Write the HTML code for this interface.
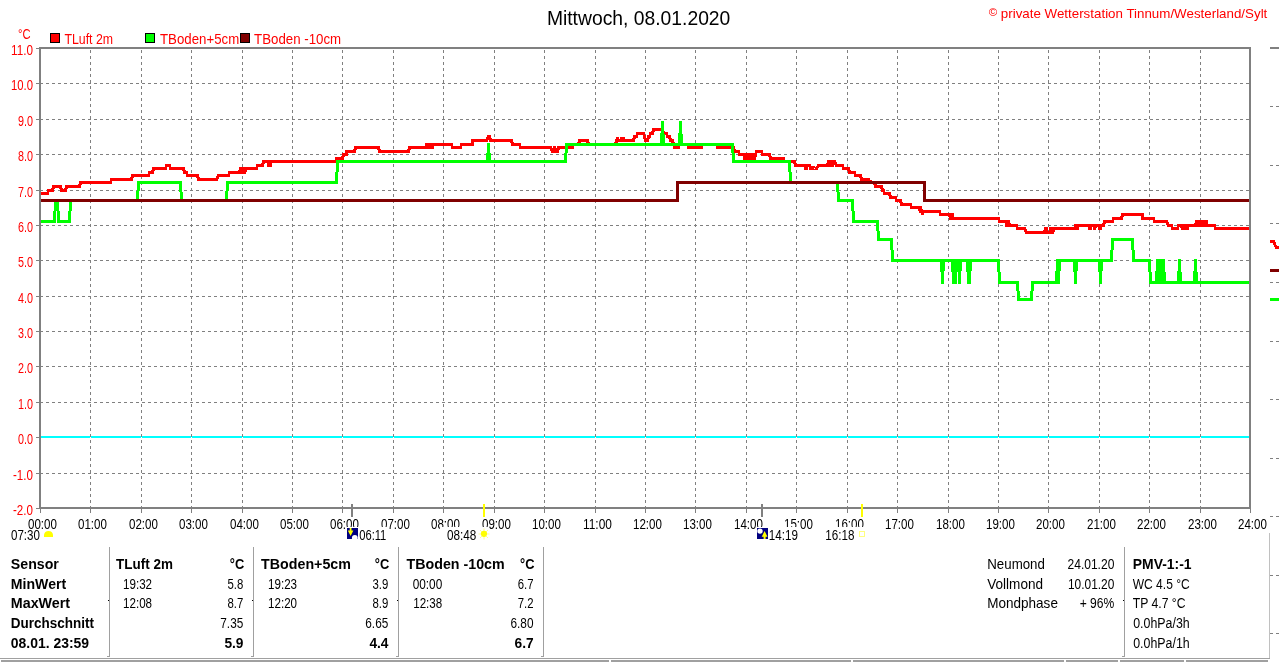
<!DOCTYPE html>
<html lang="de"><head><meta charset="utf-8"><title>Mittwoch, 08.01.2020</title>
<style>
html,body{margin:0;padding:0;background:#fff;}
body{width:1280px;height:662px;overflow:hidden;position:relative;font-family:"Liberation Sans",sans-serif;}
svg text{white-space:pre;}
</style></head><body>
<svg width="1280" height="662" viewBox="0 0 1280 662" style="position:absolute;left:0;top:0">
<rect x="0" y="0" width="1280" height="662" fill="#fff"/>
<g stroke="#808080" stroke-width="1" fill="none" shape-rendering="crispEdges">
<line x1="40" x2="1249" y1="83.5" y2="83.5" stroke-dasharray="3 3"/>
<line x1="40" x2="1249" y1="119.5" y2="119.5" stroke-dasharray="3 3"/>
<line x1="40" x2="1249" y1="154.5" y2="154.5" stroke-dasharray="3 3"/>
<line x1="40" x2="1249" y1="190.5" y2="190.5" stroke-dasharray="3 3"/>
<line x1="40" x2="1249" y1="225.5" y2="225.5" stroke-dasharray="3 3"/>
<line x1="40" x2="1249" y1="260.5" y2="260.5" stroke-dasharray="3 3"/>
<line x1="40" x2="1249" y1="296.5" y2="296.5" stroke-dasharray="3 3"/>
<line x1="40" x2="1249" y1="331.5" y2="331.5" stroke-dasharray="3 3"/>
<line x1="40" x2="1249" y1="366.5" y2="366.5" stroke-dasharray="3 3"/>
<line x1="40" x2="1249" y1="402.5" y2="402.5" stroke-dasharray="3 3"/>
<line x1="40" x2="1249" y1="437.5" y2="437.5" stroke-dasharray="3 3"/>
<line x1="40" x2="1249" y1="473.5" y2="473.5" stroke-dasharray="3 3"/>
<line x1="90.5" x2="90.5" y1="50" y2="507" stroke-dasharray="3 3"/>
<line x1="141.5" x2="141.5" y1="50" y2="507" stroke-dasharray="3 3"/>
<line x1="191.5" x2="191.5" y1="50" y2="507" stroke-dasharray="3 3"/>
<line x1="242.5" x2="242.5" y1="50" y2="507" stroke-dasharray="3 3"/>
<line x1="292.5" x2="292.5" y1="50" y2="507" stroke-dasharray="3 3"/>
<line x1="342.5" x2="342.5" y1="50" y2="507" stroke-dasharray="3 3"/>
<line x1="393.5" x2="393.5" y1="50" y2="507" stroke-dasharray="3 3"/>
<line x1="443.5" x2="443.5" y1="50" y2="507" stroke-dasharray="3 3"/>
<line x1="494.5" x2="494.5" y1="50" y2="507" stroke-dasharray="3 3"/>
<line x1="544.5" x2="544.5" y1="50" y2="507" stroke-dasharray="3 3"/>
<line x1="595.5" x2="595.5" y1="50" y2="507" stroke-dasharray="3 3"/>
<line x1="645.5" x2="645.5" y1="50" y2="507" stroke-dasharray="3 3"/>
<line x1="695.5" x2="695.5" y1="50" y2="507" stroke-dasharray="3 3"/>
<line x1="746.5" x2="746.5" y1="50" y2="507" stroke-dasharray="3 3"/>
<line x1="796.5" x2="796.5" y1="50" y2="507" stroke-dasharray="3 3"/>
<line x1="847.5" x2="847.5" y1="50" y2="507" stroke-dasharray="3 3"/>
<line x1="897.5" x2="897.5" y1="50" y2="507" stroke-dasharray="3 3"/>
<line x1="948.5" x2="948.5" y1="50" y2="507" stroke-dasharray="3 3"/>
<line x1="998.5" x2="998.5" y1="50" y2="507" stroke-dasharray="3 3"/>
<line x1="1048.5" x2="1048.5" y1="50" y2="507" stroke-dasharray="3 3"/>
<line x1="1099.5" x2="1099.5" y1="50" y2="507" stroke-dasharray="3 3"/>
<line x1="1149.5" x2="1149.5" y1="50" y2="507" stroke-dasharray="3 3"/>
<line x1="1200.5" x2="1200.5" y1="50" y2="507" stroke-dasharray="3 3"/>
</g>
<rect x="41" y="436" width="1208" height="2" fill="#00ffff" shape-rendering="crispEdges"/>
<g fill="#808080" shape-rendering="crispEdges">
<rect x="90" y="434" width="1" height="3"/><rect x="90" y="437" width="1" height="1" fill="#fff"/>
<rect x="141" y="434" width="1" height="3"/><rect x="141" y="437" width="1" height="1" fill="#fff"/>
<rect x="191" y="434" width="1" height="3"/><rect x="191" y="437" width="1" height="1" fill="#fff"/>
<rect x="242" y="434" width="1" height="3"/><rect x="242" y="437" width="1" height="1" fill="#fff"/>
<rect x="292" y="434" width="1" height="3"/><rect x="292" y="437" width="1" height="1" fill="#fff"/>
<rect x="342" y="434" width="1" height="3"/><rect x="342" y="437" width="1" height="1" fill="#fff"/>
<rect x="393" y="434" width="1" height="3"/><rect x="393" y="437" width="1" height="1" fill="#fff"/>
<rect x="443" y="434" width="1" height="3"/><rect x="443" y="437" width="1" height="1" fill="#fff"/>
<rect x="494" y="434" width="1" height="3"/><rect x="494" y="437" width="1" height="1" fill="#fff"/>
<rect x="544" y="434" width="1" height="3"/><rect x="544" y="437" width="1" height="1" fill="#fff"/>
<rect x="595" y="434" width="1" height="3"/><rect x="595" y="437" width="1" height="1" fill="#fff"/>
<rect x="645" y="434" width="1" height="3"/><rect x="645" y="437" width="1" height="1" fill="#fff"/>
<rect x="695" y="434" width="1" height="3"/><rect x="695" y="437" width="1" height="1" fill="#fff"/>
<rect x="746" y="434" width="1" height="3"/><rect x="746" y="437" width="1" height="1" fill="#fff"/>
<rect x="796" y="434" width="1" height="3"/><rect x="796" y="437" width="1" height="1" fill="#fff"/>
<rect x="847" y="434" width="1" height="3"/><rect x="847" y="437" width="1" height="1" fill="#fff"/>
<rect x="897" y="434" width="1" height="3"/><rect x="897" y="437" width="1" height="1" fill="#fff"/>
<rect x="948" y="434" width="1" height="3"/><rect x="948" y="437" width="1" height="1" fill="#fff"/>
<rect x="998" y="434" width="1" height="3"/><rect x="998" y="437" width="1" height="1" fill="#fff"/>
<rect x="1048" y="434" width="1" height="3"/><rect x="1048" y="437" width="1" height="1" fill="#fff"/>
<rect x="1099" y="434" width="1" height="3"/><rect x="1099" y="437" width="1" height="1" fill="#fff"/>
<rect x="1149" y="434" width="1" height="3"/><rect x="1149" y="437" width="1" height="1" fill="#fff"/>
<rect x="1200" y="434" width="1" height="3"/><rect x="1200" y="437" width="1" height="1" fill="#fff"/>
</g>
<g fill="none" stroke-width="3" stroke-linejoin="round" stroke-linecap="butt" shape-rendering="crispEdges">
<polyline stroke="#ff0000" points="40.5,193.5 47.5,193.5 48.5,190.5 52.5,190.5 53.5,186.5 60.5,186.5 61.5,190.5 65.5,190.5 66.5,186.5 79.5,186.5 80.5,182.5 110.5,182.5 111.5,179.5 131.5,179.5 132.5,175.5 148.5,175.5 149.5,172.5 152.5,172.5 153.5,168.5 165.5,168.5 166.5,165.5 169.5,165.5 170.5,168.5 183.5,168.5 184.5,172.5 186.5,172.5 187.5,175.5 197.5,175.5 198.5,179.5 216.5,179.5 218.5,175.5 228.5,175.5 229.5,172.5 239.5,172.5 240.5,168.5 240.5,168.5 242.5,172.5 242.5,172.5 243.5,168.5 243.5,168.5 244.5,172.5 244.5,172.5 246.5,168.5 256.5,168.5 257.5,165.5 262.5,165.5 263.5,161.5 268.5,161.5 268.5,165.5 270.5,165.5 270.5,161.5 335.5,161.5 336.5,158.5 342.5,158.5 343.5,154.5 346.5,154.5 346.5,151.5 354.5,151.5 355.5,147.5 378.5,147.5 379.5,151.5 408.5,151.5 409.5,147.5 425.5,147.5 426.5,144.5 426.5,144.5 428.5,147.5 428.5,147.5 429.5,144.5 430.5,144.5 431.5,147.5 432.5,147.5 432.5,144.5 451.5,144.5 452.5,147.5 460.5,147.5 461.5,144.5 472.5,144.5 472.5,140.5 486.5,140.5 488.5,136.5 489.5,136.5 490.5,140.5 511.5,140.5 512.5,144.5 519.5,144.5 520.5,147.5 550.5,147.5 552.5,151.5 554.5,151.5 554.5,147.5 554.5,147.5 556.5,151.5 557.5,151.5 558.5,147.5 572.5,147.5 572.5,144.5 578.5,144.5 579.5,140.5 587.5,140.5 588.5,144.5 615.5,144.5 616.5,140.5 616.5,140.5 617.5,138.5 617.5,138.5 618.5,140.5 620.5,140.5 621.5,138.5 621.5,138.5 622.5,140.5 622.5,140.5 623.5,138.5 623.5,138.5 624.5,140.5 633.5,140.5 634.5,136.5 636.5,136.5 637.5,133.5 643.5,133.5 644.5,136.5 644.5,136.5 645.5,140.5 647.5,140.5 648.5,136.5 649.5,136.5 650.5,133.5 652.5,133.5 653.5,129.5 662.5,129.5 663.5,133.5 666.5,133.5 667.5,136.5 669.5,136.5 670.5,140.5 672.5,140.5 673.5,144.5 673.5,144.5 674.5,147.5 678.5,147.5 679.5,144.5 687.5,144.5 688.5,147.5 701.5,147.5 702.5,144.5 716.5,144.5 717.5,147.5 733.5,147.5 734.5,151.5 738.5,151.5 739.5,154.5 744.5,154.5 744.5,158.5 745.5,158.5 746.5,154.5 746.5,154.5 748.5,158.5 748.5,158.5 749.5,154.5 750.5,154.5 750.5,158.5 751.5,158.5 752.5,154.5 752.5,154.5 754.5,158.5 754.5,158.5 756.5,151.5 761.5,151.5 762.5,154.5 769.5,154.5 770.5,158.5 783.5,158.5 784.5,161.5 794.5,161.5 795.5,165.5 804.5,165.5 805.5,168.5 806.5,168.5 807.5,165.5 809.5,165.5 810.5,168.5 811.5,168.5 812.5,167.5 813.5,167.5 814.5,168.5 816.5,168.5 818.5,165.5 827.5,165.5 828.5,161.5 828.5,161.5 829.5,165.5 830.5,165.5 830.5,161.5 831.5,161.5 832.5,165.5 832.5,165.5 834.5,161.5 834.5,161.5 836.5,165.5 842.5,165.5 843.5,168.5 848.5,168.5 849.5,172.5 854.5,172.5 855.5,175.5 860.5,175.5 861.5,179.5 868.5,179.5 869.5,181.5 870.5,181.5 871.5,182.5 874.5,182.5 875.5,186.5 881.5,186.5 882.5,190.5 883.5,190.5 884.5,193.5 889.5,193.5 890.5,197.5 895.5,197.5 896.5,200.5 900.5,200.5 901.5,204.5 910.5,204.5 911.5,207.5 918.5,207.5 920.5,211.5 920.5,211.5 920.5,207.5 920.5,207.5 922.5,213.5 922.5,213.5 923.5,211.5 939.5,211.5 940.5,214.5 949.5,214.5 950.5,218.5 950.5,218.5 951.5,214.5 952.5,214.5 952.5,218.5 998.5,218.5 999.5,221.5 1006.5,221.5 1006.5,225.5 1006.5,225.5 1008.5,221.5 1008.5,221.5 1009.5,225.5 1016.5,225.5 1017.5,228.5 1024.5,228.5 1026.5,232.5 1044.5,232.5 1045.5,228.5 1046.5,228.5 1046.5,232.5 1047.5,232.5 1048.5,232.5 1050.5,232.5 1050.5,228.5 1051.5,228.5 1052.5,232.5 1052.5,232.5 1054.5,228.5 1074.5,228.5 1075.5,225.5 1076.5,225.5 1076.5,228.5 1077.5,228.5 1078.5,225.5 1088.5,225.5 1089.5,228.5 1090.5,228.5 1090.5,225.5 1093.5,225.5 1094.5,228.5 1094.5,228.5 1096.5,225.5 1098.5,225.5 1099.5,228.5 1100.5,228.5 1100.5,225.5 1103.5,225.5 1104.5,221.5 1112.5,221.5 1113.5,218.5 1121.5,218.5 1122.5,214.5 1142.5,214.5 1142.5,218.5 1153.5,218.5 1154.5,221.5 1166.5,221.5 1168.5,225.5 1171.5,225.5 1172.5,228.5 1177.5,228.5 1178.5,225.5 1180.5,225.5 1182.5,228.5 1182.5,228.5 1183.5,225.5 1184.5,225.5 1184.5,228.5 1185.5,228.5 1186.5,225.5 1186.5,225.5 1187.5,228.5 1187.5,228.5 1188.5,225.5 1195.5,225.5 1196.5,221.5 1196.5,221.5 1197.5,225.5 1198.5,225.5 1198.5,221.5 1199.5,221.5 1200.5,225.5 1200.5,225.5 1202.5,221.5 1202.5,221.5 1203.5,225.5 1204.5,225.5 1204.5,221.5 1206.5,221.5 1206.5,225.5 1214.5,225.5 1215.5,228.5 1250.5,228.5"/>
<polyline stroke="#00ff00" points="40.5,221.5 54.5,221.5 55.5,200.5 57.5,200.5 58.5,221.5 69.5,221.5 70.5,200.5 137.5,200.5 138.5,182.5 180.5,182.5 181.5,200.5 226.5,200.5 227.5,182.5 336.5,182.5 337.5,161.5 487.5,161.5 488.5,144.5 488.5,144.5 489.5,161.5 565.5,161.5 566.5,144.5 661.5,144.5 662.5,122.5 662.5,122.5 663.5,144.5 679.5,144.5 680.5,122.5 680.5,122.5 681.5,144.5 732.5,144.5 733.5,161.5 789.5,161.5 790.5,182.5 837.5,182.5 838.5,200.5 852.5,200.5 853.5,221.5 877.5,221.5 878.5,239.5 891.5,239.5 892.5,260.5 941.5,260.5 942.5,282.5 942.5,282.5 943.5,260.5 952.5,260.5 953.5,282.5 953.5,282.5 954.5,260.5 954.5,260.5 955.5,282.5 955.5,282.5 956.5,260.5 958.5,260.5 959.5,282.5 959.5,282.5 960.5,260.5 967.5,260.5 968.5,282.5 969.5,282.5 970.5,260.5 998.5,260.5 999.5,282.5 1017.5,282.5 1018.5,299.5 1031.5,299.5 1032.5,282.5 1056.5,282.5 1057.5,260.5 1057.5,260.5 1058.5,282.5 1058.5,282.5 1059.5,260.5 1074.5,260.5 1075.5,282.5 1075.5,282.5 1076.5,260.5 1099.5,260.5 1100.5,282.5 1100.5,282.5 1101.5,260.5 1111.5,260.5 1112.5,239.5 1132.5,239.5 1133.5,260.5 1149.5,260.5 1150.5,282.5 1156.5,282.5 1157.5,260.5 1158.5,260.5 1159.5,282.5 1159.5,282.5 1160.5,260.5 1160.5,260.5 1161.5,282.5 1161.5,282.5 1162.5,260.5 1163.5,260.5 1164.5,282.5 1178.5,282.5 1179.5,260.5 1179.5,260.5 1180.5,282.5 1194.5,282.5 1195.5,260.5 1195.5,260.5 1196.5,282.5 1250.5,282.5"/>
<polyline stroke="#800000" points="40.5,200.5 677.5,200.5 677.5,182.5 924.5,182.5 924.5,200.5 1250.5,200.5"/>
</g>
<g fill="#808080" shape-rendering="crispEdges">
<rect x="39" y="47" width="1212" height="2"/>
<rect x="39" y="507" width="1212" height="2"/>
<rect x="39" y="47" width="2" height="462"/>
<rect x="1249" y="47" width="2" height="462"/>
<rect x="36" y="48" width="3" height="1"/>
<rect x="36" y="83" width="3" height="1"/>
<rect x="36" y="119" width="3" height="1"/>
<rect x="36" y="154" width="3" height="1"/>
<rect x="36" y="190" width="3" height="1"/>
<rect x="36" y="225" width="3" height="1"/>
<rect x="36" y="260" width="3" height="1"/>
<rect x="36" y="296" width="3" height="1"/>
<rect x="36" y="331" width="3" height="1"/>
<rect x="36" y="366" width="3" height="1"/>
<rect x="36" y="402" width="3" height="1"/>
<rect x="36" y="437" width="3" height="1"/>
<rect x="36" y="473" width="3" height="1"/>
<rect x="36" y="508" width="3" height="1"/>
<rect x="40" y="509" width="1" height="4"/>
<rect x="90" y="509" width="1" height="4"/>
<rect x="141" y="509" width="1" height="4"/>
<rect x="191" y="509" width="1" height="4"/>
<rect x="242" y="509" width="1" height="4"/>
<rect x="292" y="509" width="1" height="4"/>
<rect x="342" y="509" width="1" height="4"/>
<rect x="393" y="509" width="1" height="4"/>
<rect x="443" y="509" width="1" height="4"/>
<rect x="494" y="509" width="1" height="4"/>
<rect x="544" y="509" width="1" height="4"/>
<rect x="595" y="509" width="1" height="4"/>
<rect x="645" y="509" width="1" height="4"/>
<rect x="695" y="509" width="1" height="4"/>
<rect x="746" y="509" width="1" height="4"/>
<rect x="796" y="509" width="1" height="4"/>
<rect x="847" y="509" width="1" height="4"/>
<rect x="897" y="509" width="1" height="4"/>
<rect x="948" y="509" width="1" height="4"/>
<rect x="998" y="509" width="1" height="4"/>
<rect x="1048" y="509" width="1" height="4"/>
<rect x="1099" y="509" width="1" height="4"/>
<rect x="1149" y="509" width="1" height="4"/>
<rect x="1200" y="509" width="1" height="4"/>
<rect x="1250" y="509" width="1" height="4"/>
<rect x="351" y="504" width="2" height="13"/>
<rect x="761" y="504" width="2" height="13"/>
</g>
<g fill="#ffff00" shape-rendering="crispEdges">
<rect x="483" y="504" width="2" height="13"/>
<rect x="861" y="504" width="2" height="13"/>
</g>
<g shape-rendering="crispEdges">
<rect x="1270" y="47" width="9" height="2" fill="#808080"/>
<rect x="1270" y="106" width="3" height="1" fill="#808080"/><rect x="1276" y="106" width="3" height="1" fill="#808080"/>
<rect x="1270" y="165" width="3" height="1" fill="#808080"/><rect x="1276" y="165" width="3" height="1" fill="#808080"/>
<rect x="1270" y="223" width="3" height="1" fill="#808080"/><rect x="1276" y="223" width="3" height="1" fill="#808080"/>
<rect x="1270" y="282" width="3" height="1" fill="#808080"/><rect x="1276" y="282" width="3" height="1" fill="#808080"/>
<rect x="1270" y="341" width="3" height="1" fill="#808080"/><rect x="1276" y="341" width="3" height="1" fill="#808080"/>
<rect x="1270" y="399" width="3" height="1" fill="#808080"/><rect x="1276" y="399" width="3" height="1" fill="#808080"/>
<rect x="1270" y="458" width="3" height="1" fill="#808080"/><rect x="1276" y="458" width="3" height="1" fill="#808080"/>
<rect x="1270" y="516" width="3" height="1" fill="#808080"/><rect x="1276" y="516" width="3" height="1" fill="#808080"/>
<rect x="1270" y="575" width="3" height="1" fill="#808080"/><rect x="1276" y="575" width="3" height="1" fill="#808080"/>
<rect x="1270" y="633" width="3" height="1" fill="#808080"/><rect x="1276" y="633" width="3" height="1" fill="#808080"/>
<polyline fill="none" stroke="#ff0000" stroke-width="3" points="1270,241.5 1273.5,241.5 1276,247 1279,247"/>
<rect x="1270" y="269" width="9" height="3" fill="#800000"/>
<rect x="1270" y="298" width="9" height="3" fill="#00ff00"/>
</g>
<g font-family="'Liberation Sans',sans-serif">
<text transform="translate(11.00,54.9) scale(0.8502,1)" font-size="13.8px" fill="#ff0000">11.0</text>
<text transform="translate(11.00,89.9) scale(0.8186,1)" font-size="13.8px" fill="#ff0000">10.0</text>
<text transform="translate(18.00,125.9) scale(0.7818,1)" font-size="13.8px" fill="#ff0000">9.0</text>
<text transform="translate(18.00,160.9) scale(0.7818,1)" font-size="13.8px" fill="#ff0000">8.0</text>
<text transform="translate(18.00,196.9) scale(0.7818,1)" font-size="13.8px" fill="#ff0000">7.0</text>
<text transform="translate(18.00,231.9) scale(0.7818,1)" font-size="13.8px" fill="#ff0000">6.0</text>
<text transform="translate(18.00,266.9) scale(0.7818,1)" font-size="13.8px" fill="#ff0000">5.0</text>
<text transform="translate(18.00,302.9) scale(0.7818,1)" font-size="13.8px" fill="#ff0000">4.0</text>
<text transform="translate(18.00,337.9) scale(0.7818,1)" font-size="13.8px" fill="#ff0000">3.0</text>
<text transform="translate(18.00,372.9) scale(0.7818,1)" font-size="13.8px" fill="#ff0000">2.0</text>
<text transform="translate(18.00,408.9) scale(0.7818,1)" font-size="13.8px" fill="#ff0000">1.0</text>
<text transform="translate(18.00,443.9) scale(0.7818,1)" font-size="13.8px" fill="#ff0000">0.0</text>
<text transform="translate(13.00,479.9) scale(0.8399,1)" font-size="13.8px" fill="#ff0000">-1.0</text>
<text transform="translate(13.00,514.9) scale(0.8399,1)" font-size="13.8px" fill="#ff0000">-2.0</text>
<text transform="translate(18.00,38.9) scale(0.8129,1)" font-size="13.8px" fill="#ff0000">°C</text>
<text transform="translate(28.00,528.9) scale(0.8391,1)" font-size="13.8px" fill="#000">00:00</text>
<text transform="translate(78.00,528.9) scale(0.8391,1)" font-size="13.8px" fill="#000">01:00</text>
<text transform="translate(129.00,528.9) scale(0.8391,1)" font-size="13.8px" fill="#000">02:00</text>
<text transform="translate(179.00,528.9) scale(0.8391,1)" font-size="13.8px" fill="#000">03:00</text>
<text transform="translate(230.00,528.9) scale(0.8391,1)" font-size="13.8px" fill="#000">04:00</text>
<text transform="translate(280.00,528.9) scale(0.8391,1)" font-size="13.8px" fill="#000">05:00</text>
<text transform="translate(330.00,528.9) scale(0.8391,1)" font-size="13.8px" fill="#000">06:00</text>
<text transform="translate(381.00,528.9) scale(0.8391,1)" font-size="13.8px" fill="#000">07:00</text>
<text transform="translate(431.00,528.9) scale(0.8391,1)" font-size="13.8px" fill="#000">08:00</text>
<text transform="translate(482.00,528.9) scale(0.8391,1)" font-size="13.8px" fill="#000">09:00</text>
<text transform="translate(532.00,528.9) scale(0.8391,1)" font-size="13.8px" fill="#000">10:00</text>
<text transform="translate(583.00,528.9) scale(0.8641,1)" font-size="13.8px" fill="#000">11:00</text>
<text transform="translate(633.00,528.9) scale(0.8391,1)" font-size="13.8px" fill="#000">12:00</text>
<text transform="translate(683.00,528.9) scale(0.8391,1)" font-size="13.8px" fill="#000">13:00</text>
<text transform="translate(734.00,528.9) scale(0.8391,1)" font-size="13.8px" fill="#000">14:00</text>
<text transform="translate(784.00,528.9) scale(0.8391,1)" font-size="13.8px" fill="#000">15:00</text>
<text transform="translate(835.00,528.9) scale(0.8391,1)" font-size="13.8px" fill="#000">16:00</text>
<text transform="translate(885.00,528.9) scale(0.8391,1)" font-size="13.8px" fill="#000">17:00</text>
<text transform="translate(936.00,528.9) scale(0.8391,1)" font-size="13.8px" fill="#000">18:00</text>
<text transform="translate(986.00,528.9) scale(0.8391,1)" font-size="13.8px" fill="#000">19:00</text>
<text transform="translate(1036.00,528.9) scale(0.8391,1)" font-size="13.8px" fill="#000">20:00</text>
<text transform="translate(1087.00,528.9) scale(0.8391,1)" font-size="13.8px" fill="#000">21:00</text>
<text transform="translate(1137.00,528.9) scale(0.8391,1)" font-size="13.8px" fill="#000">22:00</text>
<text transform="translate(1188.00,528.9) scale(0.8391,1)" font-size="13.8px" fill="#000">23:00</text>
<text transform="translate(1238.00,528.9) scale(0.8391,1)" font-size="13.8px" fill="#000">24:00</text>
<text transform="translate(11.00,539.9) scale(0.8391,1)" font-size="13.8px" fill="#000">07:30</text>
<rect x="347" y="527" width="41" height="15" fill="#fff"/><text transform="translate(359.20,539.9) scale(0.8104,1)" font-size="13.8px" fill="#000">06:11</text>
<rect x="440" y="527" width="49" height="15" fill="#fff"/><text transform="translate(447.00,539.9) scale(0.8506,1)" font-size="13.8px" fill="#000">08:48</text>
<rect x="757" y="527" width="44" height="15" fill="#fff"/><text transform="translate(768.80,539.9) scale(0.8448,1)" font-size="13.8px" fill="#000">14:19</text>
<rect x="825" y="527" width="41" height="15" fill="#fff"/><text transform="translate(825.20,539.9) scale(0.8448,1)" font-size="13.8px" fill="#000">16:18</text>
<text transform="translate(546.90,24.5) scale(0.9952,1)" font-size="19.4px" fill="#000">Mittwoch, 08.01.2020</text>
<text x="988.7" y="15.6" font-size="11.5px" fill="#ff0000">©</text>
<text transform="translate(1000.80,17.8) scale(0.9819,1)" font-size="13.6px" fill="#ff0000">private Wetterstation Tinnum/Westerland/Sylt</text>
<rect x="50.5" y="33.5" width="9" height="9" fill="#ff0000" stroke="#000" stroke-width="1" shape-rendering="crispEdges"/>
<text transform="translate(64.40,43.9) scale(0.8877,1)" font-size="13.9px" fill="#ff0000">TLuft 2m</text>
<rect x="145.5" y="33.5" width="9" height="9" fill="#00ff00" stroke="#000" stroke-width="1" shape-rendering="crispEdges"/>
<text transform="translate(160.00,43.9) scale(0.9537,1)" font-size="13.9px" fill="#ff0000">TBoden+5cm</text>
<rect x="240.5" y="33.5" width="9" height="9" fill="#800000" stroke="#000" stroke-width="1" shape-rendering="crispEdges"/>
<text transform="translate(254.10,43.9) scale(0.9549,1)" font-size="13.9px" fill="#ff0000">TBoden -10cm</text>
<text transform="translate(10.80,568.9) scale(1.0140,1)" font-size="14.0px" fill="#000" font-weight="bold">Sensor</text>
<text transform="translate(10.80,588.9) scale(1.0084,1)" font-size="14.0px" fill="#000" font-weight="bold">MinWert</text>
<text transform="translate(10.80,607.9) scale(1.0213,1)" font-size="14.0px" fill="#000" font-weight="bold">MaxWert</text>
<text transform="translate(10.80,627.9) scale(0.9634,1)" font-size="14.0px" fill="#000" font-weight="bold">Durchschnitt</text>
<text transform="translate(10.80,647.9) scale(0.9971,1)" font-size="14.0px" fill="#000" font-weight="bold">08.01. 23:59</text>
<text transform="translate(116.10,568.9) scale(0.9624,1)" font-size="14.0px" fill="#000" font-weight="bold">TLuft 2m</text>
<text transform="translate(229.80,568.9) scale(0.9179,1)" font-size="14.0px" fill="#000" font-weight="bold">°C</text>
<text transform="translate(123.00,588.9) scale(0.8420,1)" font-size="13.8px" fill="#000">19:32</text>
<text transform="translate(123.00,607.9) scale(0.8420,1)" font-size="13.8px" fill="#000">12:08</text>
<text transform="translate(227.50,588.9) scale(0.8235,1)" font-size="13.8px" fill="#000">5.8</text>
<text transform="translate(227.50,607.9) scale(0.8235,1)" font-size="13.8px" fill="#000">8.7</text>
<text transform="translate(220.30,627.9) scale(0.8558,1)" font-size="13.8px" fill="#000">7.35</text>
<text transform="translate(224.40,647.9) scale(0.9826,1)" font-size="14.0px" fill="#000" font-weight="bold">5.9</text>
<text transform="translate(261.10,568.9) scale(1.0180,1)" font-size="14.0px" fill="#000" font-weight="bold">TBoden+5cm</text>
<text transform="translate(374.80,568.9) scale(0.9179,1)" font-size="14.0px" fill="#000" font-weight="bold">°C</text>
<text transform="translate(268.00,588.9) scale(0.8420,1)" font-size="13.8px" fill="#000">19:23</text>
<text transform="translate(268.00,607.9) scale(0.8420,1)" font-size="13.8px" fill="#000">12:20</text>
<text transform="translate(372.50,588.9) scale(0.8235,1)" font-size="13.8px" fill="#000">3.9</text>
<text transform="translate(372.50,607.9) scale(0.8235,1)" font-size="13.8px" fill="#000">8.9</text>
<text transform="translate(365.30,627.9) scale(0.8558,1)" font-size="13.8px" fill="#000">6.65</text>
<text transform="translate(369.40,647.9) scale(0.9826,1)" font-size="14.0px" fill="#000" font-weight="bold">4.4</text>
<text transform="translate(406.50,568.9) scale(1.0188,1)" font-size="14.0px" fill="#000" font-weight="bold">TBoden -10cm</text>
<text transform="translate(520.00,568.9) scale(0.9179,1)" font-size="14.0px" fill="#000" font-weight="bold">°C</text>
<text transform="translate(412.70,588.9) scale(0.8564,1)" font-size="13.8px" fill="#000">00:00</text>
<text transform="translate(413.20,607.9) scale(0.8420,1)" font-size="13.8px" fill="#000">12:38</text>
<text transform="translate(517.70,588.9) scale(0.8235,1)" font-size="13.8px" fill="#000">6.7</text>
<text transform="translate(517.70,607.9) scale(0.8235,1)" font-size="13.8px" fill="#000">7.2</text>
<text transform="translate(510.50,627.9) scale(0.8558,1)" font-size="13.8px" fill="#000">6.80</text>
<text transform="translate(514.60,647.9) scale(0.9826,1)" font-size="14.0px" fill="#000" font-weight="bold">6.7</text>
<text transform="translate(987.25,568.9) scale(0.9645,1)" font-size="13.8px" fill="#000">Neumond</text>
<text transform="translate(1067.50,568.9) scale(0.8726,1)" font-size="13.8px" fill="#000">24.01.20</text>
<text transform="translate(987.25,588.9) scale(0.9831,1)" font-size="13.8px" fill="#000">Vollmond</text>
<text transform="translate(1068.00,588.9) scale(0.8633,1)" font-size="13.8px" fill="#000">10.01.20</text>
<text transform="translate(987.25,607.9) scale(0.9801,1)" font-size="13.8px" fill="#000">Mondphase</text>
<text transform="translate(1079.70,607.9) scale(0.8771,1)" font-size="13.8px" fill="#000">+ 96%</text>
<text transform="translate(1132.75,568.9) scale(0.9953,1)" font-size="14.0px" fill="#000" font-weight="bold">PMV-1:-1</text>
<text transform="translate(1132.75,588.9) scale(0.8719,1)" font-size="13.8px" fill="#000">WC 4.5 °C</text>
<text transform="translate(1132.75,607.9) scale(0.8845,1)" font-size="13.8px" fill="#000">TP 4.7 °C</text>
<text transform="translate(1133.20,627.9) scale(0.8976,1)" font-size="13.8px" fill="#000">0.0hPa/3h</text>
<text transform="translate(1133.20,647.9) scale(0.8976,1)" font-size="13.8px" fill="#000">0.0hPa/1h</text>
</g>
<path d="M44,537 L44,535 Q44.5,531 48.5,531 Q52.5,531 53,535 L53,537 Z" fill="#ffff00"/>
<rect x="347" y="528" width="11" height="11" fill="#000080" shape-rendering="crispEdges"/>
<circle cx="354.8" cy="537.9" r="2.9" fill="#fff"/>
<path d="M349.7,528 h1.8 v2.5 h1.9 l-2.8,5.6 l-2.8,-5.6 h1.9 z" fill="#ffff00"/>
<g stroke="#ffff90" stroke-width="1"><line x1="478.5" y1="534" x2="489.5" y2="534"/><line x1="484" y1="528.5" x2="484" y2="539.5"/><line x1="480" y1="530" x2="488" y2="538"/><line x1="488" y1="530" x2="480" y2="538"/></g>
<circle cx="484" cy="533.8" r="3.1" fill="#ffff00"/>
<rect x="757" y="528" width="11" height="11" fill="#000080" shape-rendering="crispEdges"/>
<circle cx="760" cy="531.1" r="2.7" fill="#fff"/>
<path d="M763.6,539 h2 v-2.3 h1.9 l-2.9,-5.7 l-2.9,5.7 h1.9 z" fill="#ffff00"/>
<rect x="859.5" y="531.5" width="5" height="5" fill="none" stroke="#ffff80" stroke-width="1" shape-rendering="crispEdges"/>
<g fill="#a0a0a0" shape-rendering="crispEdges">
<rect x="109" y="547" width="1" height="110"/>
<rect x="107" y="656" width="2" height="1"/>
<rect x="253" y="547" width="1" height="110"/>
<rect x="251" y="656" width="2" height="1"/>
<rect x="398" y="547" width="1" height="110"/>
<rect x="396" y="656" width="2" height="1"/>
<rect x="543" y="547" width="1" height="110"/>
<rect x="541" y="656" width="2" height="1"/>
<rect x="1124" y="547" width="1" height="110"/>
<rect x="1122" y="656" width="2" height="1"/>
</g>
<g fill="#000" shape-rendering="crispEdges">
<rect x="108" y="600" width="1" height="1"/>
<rect x="252" y="600" width="1" height="1"/>
<rect x="397" y="600" width="1" height="1"/>
<rect x="1123" y="600" width="1" height="1"/>
</g>
<g shape-rendering="crispEdges">
<rect x="1269" y="533" width="1" height="126" fill="#c0c0c0"/>
<rect x="0" y="658" width="1270" height="1" fill="#a0a0a0"/>
<rect x="1" y="660" width="1267" height="2" fill="#a0a0a0"/>
<rect x="609" y="660" width="2" height="2" fill="#fff"/>
<rect x="851" y="660" width="2" height="2" fill="#fff"/>
<rect x="1064" y="660" width="2" height="2" fill="#fff"/>
<rect x="1118" y="660" width="2" height="2" fill="#fff"/>
<rect x="1184" y="660" width="2" height="2" fill="#fff"/>
</g>
</svg>
</body></html>
